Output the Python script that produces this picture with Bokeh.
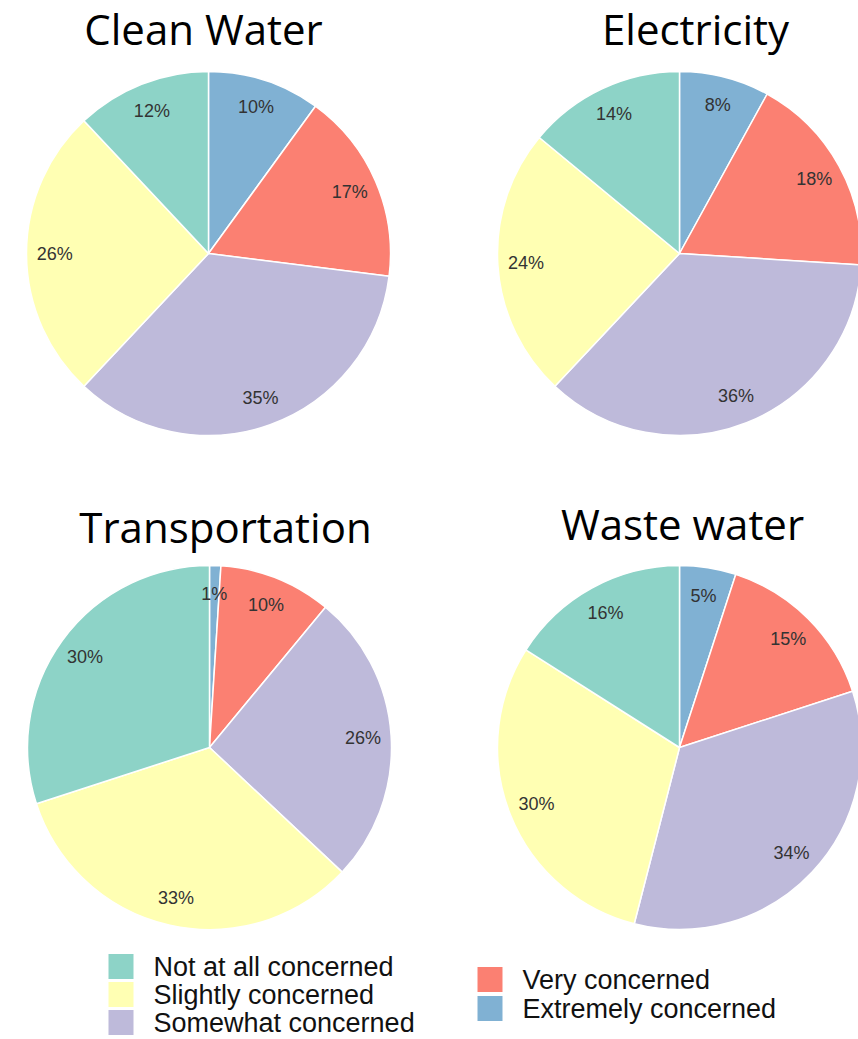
import numpy as np
from bokeh.plotting import figure
from bokeh.models import Range1d, ColumnDataSource
from bokeh.embed import file_html
from bokeh.resources import INLINE
from bokeh.core.properties import value

# ---- data (clockwise from 12 o'clock) ----
categories = ["Extremely concerned", "Very concerned", "Somewhat concerned",
              "Slightly concerned", "Not at all concerned"]
colors = ["#80B1D3", "#FB8072", "#BEBADA", "#FFFFB3", "#8DD3C7"]
titles = ["Clean Water", "Electricity", "Transportation", "Waste water"]
clean_water = [10, 17, 35, 26, 12]
electricity = [8, 18, 36, 24, 14]
transportation = [1, 10, 26, 33, 30]
waste_water = [5, 15, 34, 30, 16]
series = [clean_water, electricity, transportation, waste_water]

legend_col1 = ["Not at all concerned", "Slightly concerned", "Somewhat concerned"]
legend_col2 = ["Very concerned", "Extremely concerned"]

# ---- layout ----
W, H = 858, 1039
R = 182
centers = [(208, 253), (679, 253), (209, 747), (679, 747)]
title_pos = [(203, 28), (695, 28), (225, 526), (682, 523)]

p = figure(width=W, height=H, x_range=Range1d(0, W), y_range=Range1d(-H, 0),
           output_backend="svg", toolbar_location=None, min_border=0,
           x_axis_location=None, y_axis_location=None)
p.grid.visible = False
p.outline_line_color = None
p.background_fill_color = "white"
p.border_fill_color = "white"

for vals, (cx, cy), title, (tx, ty) in zip(series, centers, titles, title_pos):
    v = np.array(vals, dtype=float)
    frac = v / v.sum()
    cum = np.concatenate([[0], np.cumsum(frac)])
    start = np.pi / 2 - 2 * np.pi * cum[:-1]
    end = np.pi / 2 - 2 * np.pi * cum[1:]
    mid = (start + end) / 2
    src = ColumnDataSource(dict(
        x=[cx] * len(v), y=[-cy] * len(v), start=start, end=end,
        color=colors, cat=categories,
        lx=cx + 0.845 * R * np.cos(mid), ly=-cy + 0.845 * R * np.sin(mid),
        lab=[f"{int(a)}%" for a in vals]))
    p.wedge(x="x", y="y", radius=R, start_angle="start", end_angle="end",
            direction="clock", fill_color="color", line_color="white",
            line_width=1.5, source=src)
    p.text(x="lx", y="ly", text="lab", source=src, text_align="center",
           text_baseline="middle", text_font=value("Liberation Sans"),
           text_font_size="18px", text_color="#333333")
    p.text(x=[tx], y=[-ty], text=[title], text_align="center",
           text_baseline="middle", text_font=value("Open Sans"),
           text_font_size="42px", text_color="#000000")

# ---- legend (two columns) ----
cmap = dict(zip(categories, colors))
def draw_legend(items, x0, y0, pitch):
    ys = [-(y0 + i * pitch) for i in range(len(items))]
    p.rect(x=[x0 + 12.5] * len(items), y=ys, width=25, height=25,
           fill_color=[cmap[c] for c in items], line_color=None)
    p.text(x=[x0 + 45] * len(items), y=ys, text=items, text_align="left",
           text_baseline="middle", text_font=value("Liberation Sans"),
           text_font_size="27px", text_color="#111111")

draw_legend(legend_col1, 108, 966, 28)
draw_legend(legend_col2, 477, 979, 29)

open("out.html", "w").write(file_html(p, INLINE))
